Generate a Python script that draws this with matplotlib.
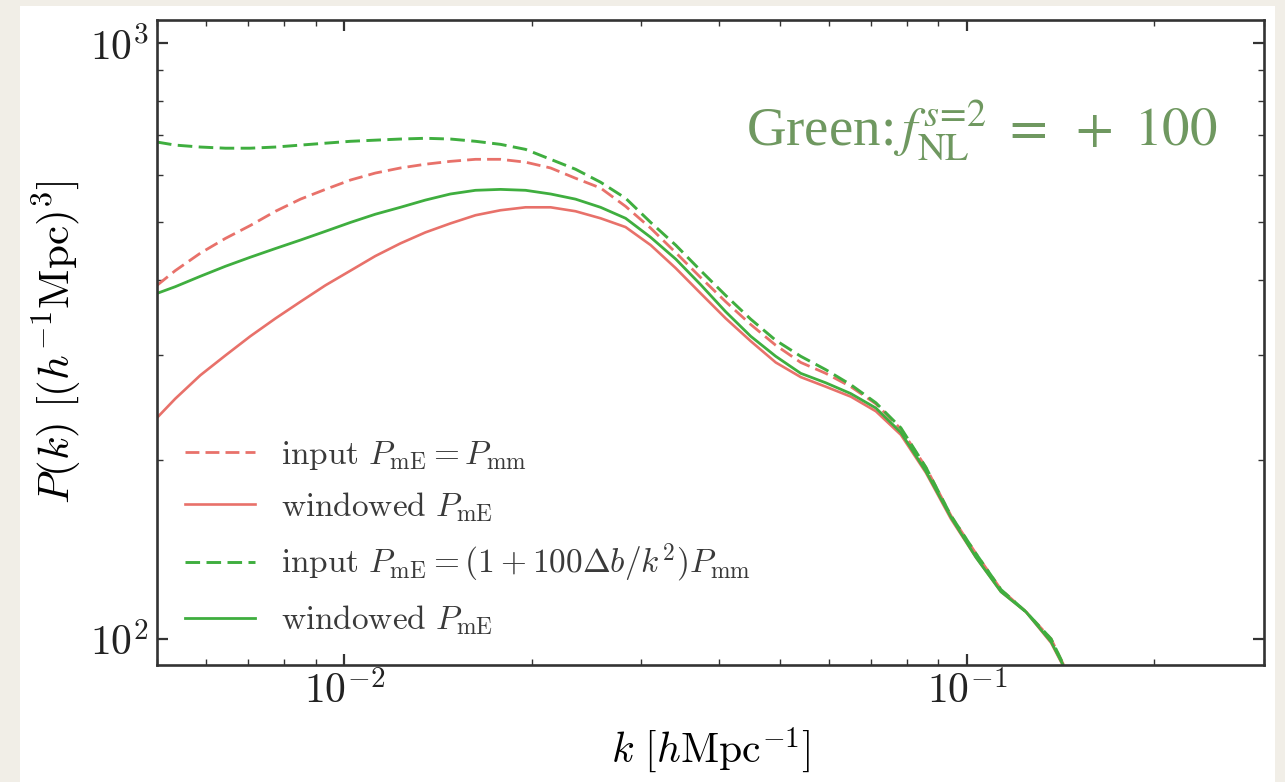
import numpy as np
import matplotlib
matplotlib.use('Agg')
import matplotlib.pyplot as plt
from matplotlib.patches import Rectangle
from matplotlib.ticker import FuncFormatter

# ============================================================
# DATA
# ============================================================

k = [0.0050, 0.00535, 0.00587, 0.00644, 0.00706, 0.00775, 0.00850, 0.00932,
     0.01023, 0.01121, 0.01230, 0.01349, 0.01480, 0.01624, 0.01781, 0.01954,
     0.02144, 0.02351, 0.02579, 0.02829, 0.03104, 0.03405, 0.03735, 0.04097,
     0.04494, 0.04930, 0.05408, 0.05932, 0.06508, 0.07140, 0.07832, 0.08592,
     0.09425, 0.1034, 0.1134, 0.1244, 0.1365, 0.1427, 0.1499]

# red dashed: input P_mE = P_mm
p_input_mm = [392, 415, 444, 470, 494, 522, 547, 568,
              589, 605, 617, 626, 633, 638, 638, 631,
              617, 593, 571, 532, 489, 445, 404, 368,
              337, 311, 291, 279, 265, 248, 225, 194,
              161, 139, 121, 111, 100, 90.8, 81.8]

# red solid: windowed P_mE
p_window_mm = [235, 253, 277, 299, 322, 345, 368, 392,
               415, 439, 461, 481, 498, 514, 524, 530,
               530, 522, 508, 491, 458, 419, 380, 345,
               316, 291, 275, 265, 255, 241, 220, 190,
               159, 137, 120, 111, 98.5, 90.1, 81.8]

# green dashed: input P_mE = (1 + 100 db/k^2) P_mm
p_input_fnl = [682, 674, 669, 666, 666, 669, 674, 679,
               684, 687, 690, 692, 690, 684, 676, 663,
               638, 614, 584, 549, 500, 458, 415, 377,
               344, 317, 298, 283, 267, 249, 226, 194,
               161, 139, 121, 111, 100, 90.8, 81.8]

# green solid: windowed P_mE
p_window_fnl = [380, 390, 406, 422, 437, 452, 467, 483,
                500, 516, 530, 545, 558, 566, 568, 566,
                558, 547, 530, 508, 472, 434, 393, 354,
                322, 298, 279, 269, 258, 244, 222, 191,
                160, 137, 120, 111, 98.9, 90.4, 81.8]

labels = [r'$\mathrm{input}\ P_{\rm mE} = P_{\rm mm}$',
          r'$\mathrm{windowed}\ P_{\rm mE}$',
          r'$\mathrm{input}\ P_{\rm mE} = (1 + 100\Delta b/k^2)P_{\rm mm}$',
          r'$\mathrm{windowed}\ P_{\rm mE}$']

RED = '#e8716a'
GREEN = '#3fae3f'

# ============================================================
# FIGURE
# ============================================================

plt.rcParams['mathtext.fontset'] = 'cm'
plt.rcParams['font.family'] = 'DejaVu Serif'

fig = plt.figure(figsize=(12.85, 7.82), dpi=100, facecolor='#f1eee7')
# white slide card behind the plot
fig.patches.append(Rectangle((20 / 1285, 0), (1275 - 20) / 1285, 1 - 6 / 782,
                             transform=fig.transFigure, facecolor='white',
                             edgecolor='none', zorder=-10))

ax = fig.add_axes([157 / 1285, 1 - 665 / 782, (1264 - 157) / 1285, (665 - 20) / 782])
ax.set_facecolor('white')

ax.plot(k, p_input_mm, color=RED, lw=2.0, ls=(0, (5, 2.2)), label=labels[0])
ax.plot(k, p_window_mm, color=RED, lw=1.9, label=labels[1])
ax.plot(k, p_input_fnl, color=GREEN, lw=2.1, ls=(0, (5, 2.2)), label=labels[2])
ax.plot(k, p_window_fnl, color=GREEN, lw=2.0, label=labels[3])

ax.set_xscale('log')
ax.set_yscale('log')
ax.set_xlim(0.0050, 0.30)
ax.set_ylim(90.4, 1093)

decade = FuncFormatter(lambda v, pos: r'$10^{%d}$' % int(round(np.log10(v))))
ax.xaxis.set_major_formatter(decade)
ax.yaxis.set_major_formatter(decade)

ax.set_xlabel(r'$k\ [h\mathrm{Mpc}^{-1}]$', fontsize=30, labelpad=9)
ax.set_ylabel(r'$P(k)\ [(h^{-1}\mathrm{Mpc})^3]$', fontsize=31, labelpad=4)

ax.tick_params(which='both', direction='in', top=True, right=True,
               labelsize=30, color='#333333', labelcolor='#222222')
ax.tick_params(axis='x', pad=4)
ax.tick_params(axis='y', pad=6)
ax.tick_params(which='major', length=8, width=1.6)
ax.tick_params(which='minor', length=4.5, width=1.0)
for s in ax.spines.values():
    s.set_linewidth(1.9)
    s.set_color('#333333')

leg = ax.legend(loc='lower left', bbox_to_anchor=(0.025, 0.043), frameon=False,
                fontsize=24, handlelength=2.1, handletextpad=0.8,
                labelspacing=0.55, borderpad=0, borderaxespad=0)
for t in leg.get_texts():
    t.set_color('#3a3a3a')

fig.text(746 / 1285, 1 - 145 / 782, r'Green:$\,f_{\rm NL}^{s\!=\!2}\ =\ +\ 100$',
         fontsize=39.5, color='#6f9860', family='Liberation Serif',
         math_fontfamily='stix', ha='left', va='baseline')

plt.savefig('out.png', dpi=100, facecolor=fig.get_facecolor())
